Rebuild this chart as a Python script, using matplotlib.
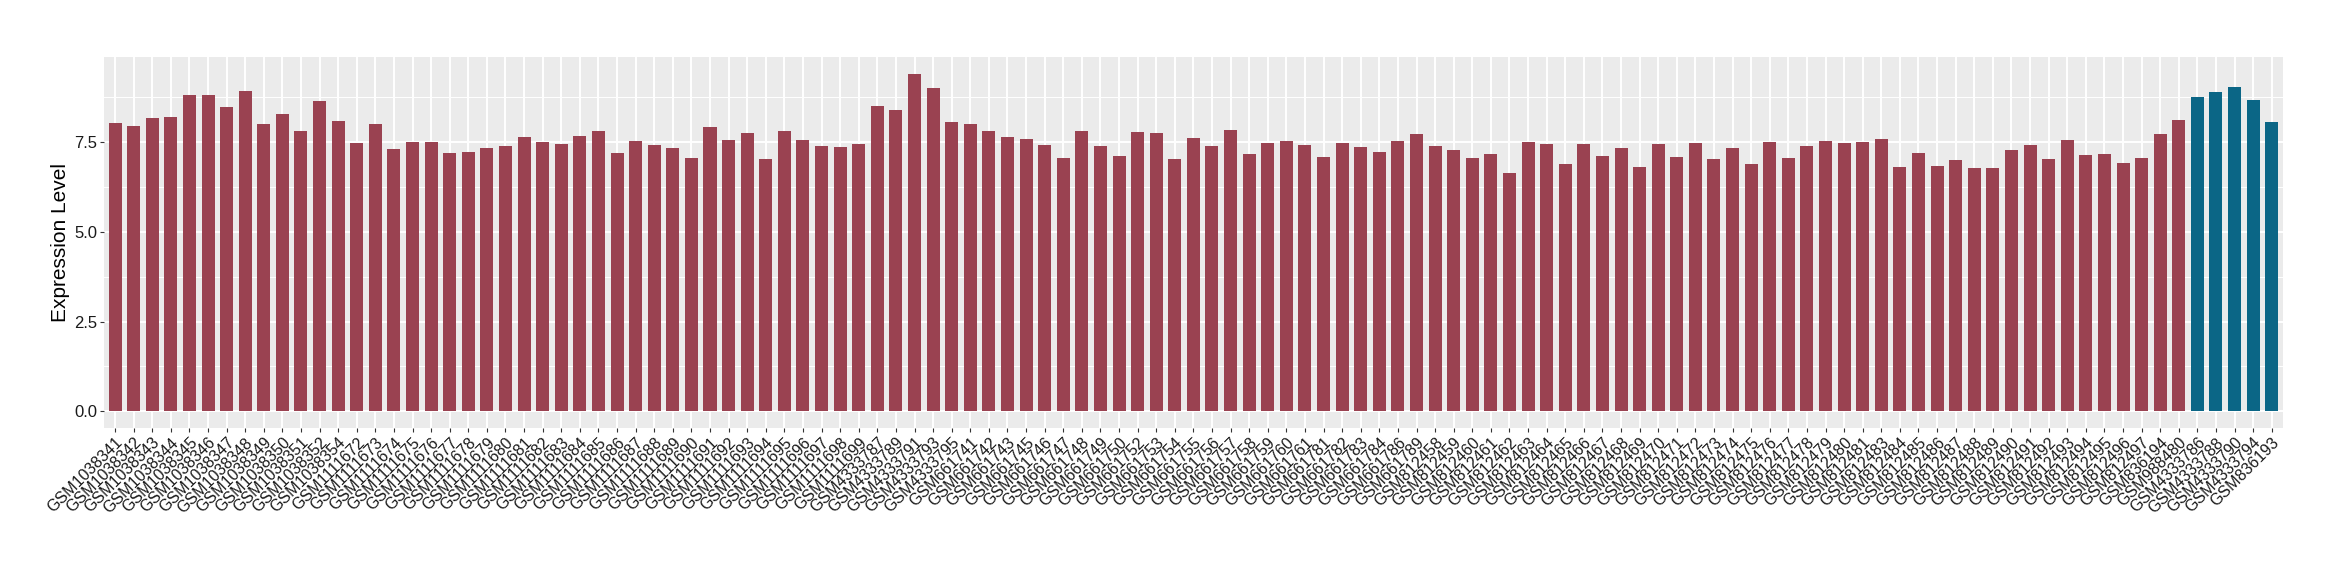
import matplotlib
matplotlib.use('Agg')
import matplotlib.pyplot as plt
import numpy as np

plt.rcParams['font.family'] = ['Liberation Sans', 'DejaVu Sans']

# Sample names (x axis order)
samples = [
    'GSM1038341', 'GSM1038342', 'GSM1038343', 'GSM1038344', 'GSM1038345', 'GSM1038346',
    'GSM1038347', 'GSM1038348', 'GSM1038349', 'GSM1038350', 'GSM1038351', 'GSM1038352',
    'GSM1038354', 'GSM1111672', 'GSM1111673', 'GSM1111674', 'GSM1111675', 'GSM1111676',
    'GSM1111677', 'GSM1111678', 'GSM1111679', 'GSM1111680', 'GSM1111681', 'GSM1111682',
    'GSM1111683', 'GSM1111684', 'GSM1111685', 'GSM1111686', 'GSM1111687', 'GSM1111688',
    'GSM1111689', 'GSM1111690', 'GSM1111691', 'GSM1111692', 'GSM1111693', 'GSM1111694',
    'GSM1111695', 'GSM1111696', 'GSM1111697', 'GSM1111698', 'GSM1111699', 'GSM4333787',
    'GSM4333789', 'GSM4333791', 'GSM4333793', 'GSM4333795', 'GSM661741', 'GSM661742',
    'GSM661743', 'GSM661745', 'GSM661746', 'GSM661747', 'GSM661748', 'GSM661749',
    'GSM661750', 'GSM661752', 'GSM661753', 'GSM661754', 'GSM661755', 'GSM661756',
    'GSM661757', 'GSM661758', 'GSM661759', 'GSM661760', 'GSM661761', 'GSM661781',
    'GSM661782', 'GSM661783', 'GSM661784', 'GSM661786', 'GSM661789', 'GSM812458',
    'GSM812459', 'GSM812460', 'GSM812461', 'GSM812462', 'GSM812463', 'GSM812464',
    'GSM812465', 'GSM812466', 'GSM812467', 'GSM812468', 'GSM812469', 'GSM812470',
    'GSM812471', 'GSM812472', 'GSM812473', 'GSM812474', 'GSM812475', 'GSM812476',
    'GSM812477', 'GSM812478', 'GSM812479', 'GSM812480', 'GSM812481', 'GSM812483',
    'GSM812484', 'GSM812485', 'GSM812486', 'GSM812487', 'GSM812488', 'GSM812489',
    'GSM812490', 'GSM812491', 'GSM812492', 'GSM812493', 'GSM812494', 'GSM812495',
    'GSM812496', 'GSM812497', 'GSM836194', 'GSM988480', 'GSM4333786', 'GSM4333788',
    'GSM4333790', 'GSM4333794', 'GSM836193',
]

# Expression values
expression = [
    8.03, 7.94, 8.17, 8.19, 8.83, 8.83, 8.49, 8.94, 8.00, 8.28, 7.81, 8.64,
    8.09, 7.48, 8.00, 7.32, 7.51, 7.51, 7.20, 7.23, 7.35, 7.39, 7.64, 7.51,
    7.45, 7.67, 7.81, 7.20, 7.54, 7.42, 7.35, 7.07, 7.92, 7.57, 7.76, 7.04,
    7.81, 7.57, 7.39, 7.37, 7.45, 8.52, 8.39, 9.41, 9.00, 8.06, 8.00, 7.81,
    7.64, 7.59, 7.42, 7.07, 7.81, 7.39, 7.12, 7.78, 7.76, 7.04, 7.62, 7.39,
    7.84, 7.18, 7.48, 7.54, 7.42, 7.09, 7.48, 7.37, 7.23, 7.54, 7.73, 7.39,
    7.29, 7.07, 7.18, 6.65, 7.51, 7.45, 6.90, 7.45, 7.12, 7.35, 6.82, 7.45,
    7.09, 7.48, 7.04, 7.35, 6.90, 7.51, 7.07, 7.39, 7.54, 7.48, 7.51, 7.59,
    6.80, 7.20, 6.84, 6.99, 6.77, 6.77, 7.29, 7.42, 7.04, 7.57, 7.15, 7.18,
    6.93, 7.07, 7.73, 8.12, 8.77, 8.91, 9.04, 8.67, 8.06,
]

# Group of each sample: last five are the highlighted group
groups = ['other'] * 112 + ['highlight'] * 5
group_colors = {'other': '#9A4251', 'highlight': '#0B6686'}

fig = plt.figure(figsize=(23.4, 5.8), dpi=100)
ax = fig.add_axes([0.0444, 0.262, 0.9312, 0.640])

x = np.arange(len(samples))
ax.set_facecolor('#EBEBEB')
ax.bar(x, expression, width=0.7, color=[group_colors[g] for g in groups], zorder=3)

ymax = max(expression)
ax.set_ylim(-0.05 * ymax, 1.05 * ymax)
ax.set_xlim(-0.6, len(samples) - 1 + 0.6)

ax.set_yticks([0, 2.5, 5.0, 7.5])
ax.set_yticklabels(['0.0', '2.5', '5.0', '7.5'])
ax.set_yticks([1.25, 3.75, 6.25, 8.75], minor=True)
ax.set_xticks(x)
ax.set_xticklabels(samples, rotation=45, ha='right', rotation_mode='anchor')

ax.grid(True, which='major', color='white', linewidth=1.4, zorder=0)
ax.grid(True, which='minor', axis='y', color='white', linewidth=0.7, zorder=0)
ax.set_axisbelow(True)

for s in ax.spines.values():
    s.set_visible(False)

ax.tick_params(axis='both', which='major', length=3, width=0.8, color='#333333',
               labelsize=12, labelcolor='#1a1a1a', pad=2)
ax.tick_params(axis='x', which='major', labelsize=11.5)
ax.tick_params(axis='both', which='minor', length=0)
ax.set_ylabel('Expression Level', fontsize=15, labelpad=3)

fig.savefig('out.png', dpi=100)
